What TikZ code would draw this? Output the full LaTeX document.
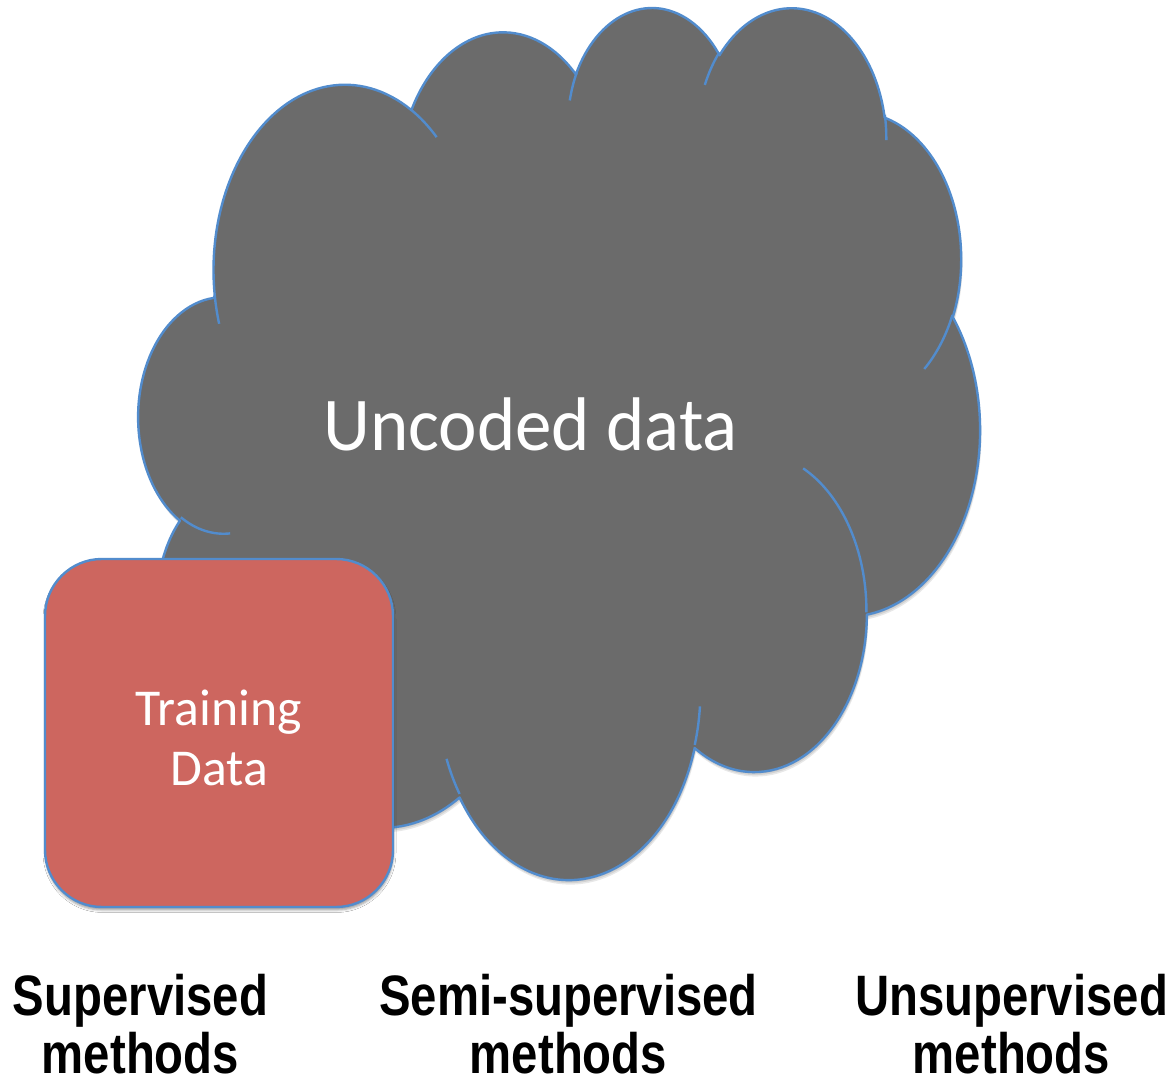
\documentclass[tikz,border=0pt]{standalone}
\usepackage{fontspec}
\setmainfont{Carlito}
\newfontfamily\labelfont{Liberation Sans}
\usetikzlibrary{shadows.blur}

\definecolor{cloudgray}{RGB}{107,107,107}
\definecolor{edgeblue}{RGB}{82,140,205}
\definecolor{boxred}{RGB}{205,102,95}

% Cloud outline: preset geometry in a 4320 x 4320 path space,
% mapped onto the page (1 unit = 1pt, y pointing up).
\newcommand\cuX{0.19465}
\newcommand\cuY{0.20178}
\newcommand\cxo{138.8}
\newcommand\cyo{1069.8}
\newcommand\cloudpt[2]{\pgfpoint{\cxo pt + #1*\cuX pt}{\cyo pt - #2*\cuY pt}}

% Elliptic arc continuing from the current point.
% #1,#2 = radii (path units), #3 = start angle, #4 = sweep (visual angles, clockwise)
\newcommand\cloudarc[4]{%
  \pgfmathsetmacro\cta{atan2((#1)*sin(#3),(#2)*cos(#3))}%
  \pgfmathsetmacro\ctb{atan2((#1)*sin((#3)+(#4)),(#2)*cos((#3)+(#4)))}%
  \pgfmathsetmacro\ctd{mod((\ctb)-(\cta)+720,360)}%
  \pgfmathsetmacro\cts{0-(\cta)}%
  \pgfmathsetmacro\cte{0-(\cta)-(\ctd)}%
  \pgfmathsetmacro\ctrx{(#1)*\cuX}%
  \pgfmathsetmacro\ctry{(#2)*\cuY}%
  \pgfpatharc{\cts}{\cte}{\ctrx pt and \ctry pt}%
}

\newcommand\cloudoutline{%
  \pgfpathmoveto{\cloudpt{390.0}{1437.0}}%
  \cloudarc{675.3}{919.0}{-190.48748}{123.78053}%
  \cloudarc{533.3}{726.7}{-144.10238}{89.94523}%
  \cloudarc{436.5}{594.5}{-145.80792}{99.72302}%
  \cloudarc{485.7}{659.5}{-130.98607}{117.24173}%
  \cloudarc{533.3}{727.3}{-78.70888}{109.02692}%
  \cloudarc{677.5}{922.0}{-46.26725}{130.26900}%
  \cloudarc{578.5}{786.7}{0.62502}{114.03333}%
  \cloudarc{675.2}{921.5}{22.45160}{115.17255}%
  \cloudarc{772.0}{1054.3}{66.24263}{75.71102}%
  \cloudarc{436.0}{591.8}{-274.94208}{146.73557}%
  \cloudarc{434.5}{594.5}{-246.82850}{152.51885}%
  \pgfpathclose}

% Inner strokes of the cloud
\newcommand\cloudfolds{%
  \pgfpathmoveto{\cloudpt{469.3}{2617.7}}\cloudarc{434.5}{594.5}{86.74200}{26.42950}%
  \pgfpathmoveto{\cloudpt{692.8}{3489.9}}\cloudarc{436.0}{591.8}{73.61047}{11.44747}%
  \pgfpathmoveto{\cloudpt{1647.8}{3909.0}}\cloudarc{675.2}{921.5}{137.62415}{14.08110}%
  \pgfpathmoveto{\cloudpt{2882.7}{3475.1}}\cloudarc{675.2}{921.5}{6.45327}{15.99835}%
  \pgfpathmoveto{\cloudpt{3412.9}{2295.4}}\cloudarc{578.5}{786.7}{-70.29235}{70.91737}%
  \pgfpathmoveto{\cloudpt{4179.8}{1535.4}}\cloudarc{533.3}{727.3}{30.31803}{27.75150}%
  \pgfpathmoveto{\cloudpt{3832.4}{542.6}}\cloudarc{485.7}{659.5}{-13.74433}{14.85890}%
  \pgfpathmoveto{\cloudpt{2907.8}{395.2}}\cloudarc{485.7}{659.5}{-149.18145}{18.19537}%
  \pgfpathmoveto{\cloudpt{2214.1}{472.0}}\cloudarc{436.5}{594.5}{-163.49427}{17.68635}%
  \pgfpathmoveto{\cloudpt{1400.0}{519.2}}\cloudarc{675.3}{919.0}{-66.70695}{12.31935}%
  \pgfpathmoveto{\cloudpt{412.7}{1578.9}}\cloudarc{675.3}{919.0}{157.65435}{11.85817}%
}

\tikzset{
  methodlabel/.style={align=center, font=\labelfont\bfseries\fontsize{57}{58}\selectfont,
    xscale=0.83, anchor=base},
}

\begin{document}
\begin{tikzpicture}[x=1pt,y=1pt]
  \useasboundingbox (0,0) rectangle (1175,1075);
  \fill[white] (0,0) rectangle (1175,1075);

  % soft shadow under the cloud
  \foreach \dx/\dy in {0.6/-1.5, 1.0/-3, 1.4/-4.5}{
    \begin{pgfscope}
      \pgftransformshift{\pgfpoint{\dx pt}{\dy pt}}
      \pgfsetfillcolor{black}
      \pgfsetfillopacity{0.09}
      \cloudoutline
      \pgfusepath{fill}
    \end{pgfscope}
  }

  % cloud body
  \begin{pgfscope}
    \pgfsetfillcolor{cloudgray}
    \pgfsetstrokecolor{edgeblue}
    \pgfsetlinewidth{2.4pt}
    \pgfsetroundjoin
    \cloudoutline
    \pgfusepath{fill,stroke}
  \end{pgfscope}
  \begin{pgfscope}
    \pgfsetstrokecolor{edgeblue}
    \pgfsetlinewidth{2.4pt}
    \cloudfolds
    \pgfusepath{stroke}
  \end{pgfscope}

  \node[text=white, font=\fontsize{76}{80}\selectfont, xscale=0.96, anchor=base]
    (uncoded) at (530.5,624.3) {Uncoded data};

  \node[draw=edgeblue, line width=2.4pt, fill=boxred, rounded corners=57pt,
        minimum width=348pt, minimum height=348pt, inner sep=0pt,
        align=center, text=white, font=\fontsize{51.7}{60}\selectfont,
        blur shadow={shadow xshift=0.5pt, shadow yshift=-3pt,
                     shadow blur radius=2.5pt, shadow opacity=40}]
    (train) at (219,342) {\rule{0pt}{45pt}Training\\Data};

  \node[methodlabel] (sup)   at (140.5,1)   {Supervised\\methods};
  \node[methodlabel] (semi)  at (568.5,1)   {Semi-supervised\\methods};
  \node[methodlabel] (unsup) at (1011.5,1)  {Unsupervised\\methods};
\end{tikzpicture}
\end{document}
